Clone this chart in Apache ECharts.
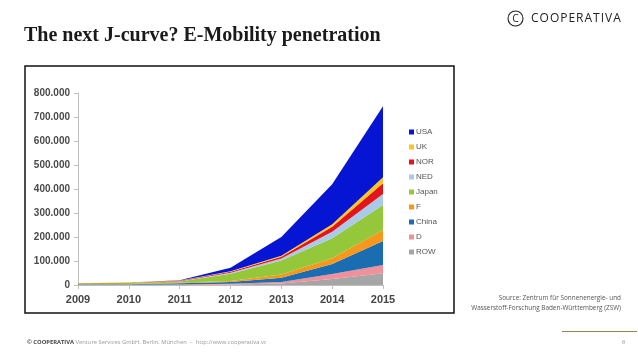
<!DOCTYPE html>
<html><head><meta charset="utf-8">
<script src="https://cdn.jsdelivr.net/npm/echarts@6/dist/echarts.min.js"></script>
<style>html,body{margin:0;padding:0;background:#fff}#c{width:638px;height:359px}</style>
</head><body><div id="c"></div>
<script>
const years = ['2009','2010','2011','2012','2013','2014','2015'];
const yTicks = [0,100000,200000,300000,400000,500000,600000,700000,800000];
// values in thousands, stacked from bottom (ROW) to top (USA)
const ROW   = [1.0, 1.0, 1.0, 2, 6, 25, 49];
const D     = [0.5, 0.5, 1.0, 3, 6, 21, 34];
const China = [1.5, 2.0, 5.0, 7, 18, 41, 100];
const F     = [0.5, 0.7, 3.0, 5, 14, 24, 46];
const Japan = [3.0, 4.0, 5.0, 30, 58, 84, 104];
const NED   = [0.2, 0.3, 1.0, 4, 8, 27, 46];
const NOR   = [1.0, 1.2, 2.0, 4, 8, 21, 45];
const UK    = [0.5, 0.6, 1.0, 2, 4, 10, 25];
const USA   = [0.3, 0.4, 0.5, 15, 78, 167, 296];

const seriesDefs = [
  ['ROW', ROW, '#a6a6a6'],
  ['D', D, '#f0909a'],
  ['China', China, '#1b6db2'],
  ['F', F, '#f7981d'],
  ['Japan', Japan, '#94c83a'],
  ['NED', NED, '#a9cbe9'],
  ['NOR', NOR, '#e2141c'],
  ['UK', UK, '#fcc520'],
  ['USA', USA, '#0614d4']
];
const legendOrder = ['USA','UK','NOR','NED','Japan','F','China','D','ROW'];

// letter-spaced logo word
const logoWord = 'COOPERATIVA';
const logoFont = '12px "Open Sans"';
const mctx = document.createElement('canvas').getContext('2d');
mctx.font = logoFont;
const logoLetters = [];
let lx = 531;
for (const ch of logoWord) {
  logoLetters.push({type:'text', x:lx, y:19, style:{text:ch, font:logoFont, fill:'#222', verticalAlign:'middle'}});
  lx += mctx.measureText(ch).width + 1.0;
}

const chart = echarts.init(document.getElementById('c'), null, {renderer:'canvas'});
chart.setOption({
  animation:false,
  backgroundColor:'#fff',
  grid:{left:78, right:255, top:93, bottom:74, containLabel:false},
  legend:{
    orient:'vertical', left:404, top:122, data:legendOrder,
    itemWidth:5, itemHeight:5, itemGap:5,
    icon:'rect',
    textStyle:{fontSize:8, color:'#555', fontFamily:'Liberation Sans', lineHeight:10, padding:[0,0,0,-3]}
  },
  xAxis:{
    type:'category', data:years, boundaryGap:false,
    axisLine:{lineStyle:{color:'#bfbfbf', width:1}},
    axisTick:{show:true, alignWithLabel:true, length:4, lineStyle:{color:'#bfbfbf'}},
    axisLabel:{fontSize:11, fontWeight:'bold', color:'#454545', margin:9, fontFamily:'Liberation Sans'},
    splitLine:{show:false}
  },
  yAxis:{
    type:'value', min:0, max:800000, interval:100000,
    axisLine:{show:true, lineStyle:{color:'#bfbfbf', width:1}},
    axisTick:{show:true, length:4, lineStyle:{color:'#bfbfbf'}},
    splitLine:{show:false},
    axisLabel:{fontSize:10, fontWeight:'bold', color:'#4a4a4a', margin:8, fontFamily:'Liberation Sans',
      formatter:v=> v===0 ? '0' : (v/1000).toFixed(0)+'.000'}
  },
  series: seriesDefs.map(([name, arr, color])=>({
    name, type:'line', stack:'all', data:arr.map(v=>v*1000),
    symbol:'none', lineStyle:{width:0}, areaStyle:{color, opacity:1},
    itemStyle:{color}, emphasis:{disabled:true}
  })),
  graphic:[
    {type:'rect', shape:{x:25, y:66, width:429, height:247}, style:{fill:'none', stroke:'#111', lineWidth:1.5}, z:-1},
    {type:'text', left:24, top:26, style:{text:'The next J-curve? E-Mobility penetration', font:'bold 20px "Liberation Serif"', fill:'#1a1a1a'}},
    {type:'circle', shape:{cx:515.5, cy:18.5, r:7.5}, style:{fill:'none', stroke:'#222', lineWidth:1.1}},
    {type:'text', x:515.6, y:19, style:{text:'C', font:'10.5px "Open Sans"', fill:'#222', align:'center', verticalAlign:'middle'}},
    ...logoLetters,
    {type:'text', x:621, y:298, style:{text:'Source: Zentrum für Sonnenenergie- und', font:'6.4px "Open Sans"', fill:'#555', align:'right', verticalAlign:'middle'}},
    {type:'text', x:621, y:308, style:{text:'Wasserstoff-Forschung Baden-Württemberg (ZSW)', font:'6.4px "Open Sans"', fill:'#555', align:'right', verticalAlign:'middle'}},
    {type:'line', shape:{x1:562, y1:331.5, x2:637, y2:331.5}, style:{stroke:'#8a8850', lineWidth:1}},
    {type:'text', x:622, y:342, style:{text:'6', font:'6px "Open Sans"', fill:'#888', verticalAlign:'middle'}},
    {type:'text', x:27, y:342, style:{
      text:'{b|© COOPERATIVA} Venture Services GmbH, Berlin, München  –  http://www.cooperativa.vc',
      font:'5.8px "Open Sans"', fill:'#999', verticalAlign:'middle',
      rich:{b:{font:'bold 5.8px "Open Sans"', fill:'#444'}}}}
  ]
});
</script></body></html>
